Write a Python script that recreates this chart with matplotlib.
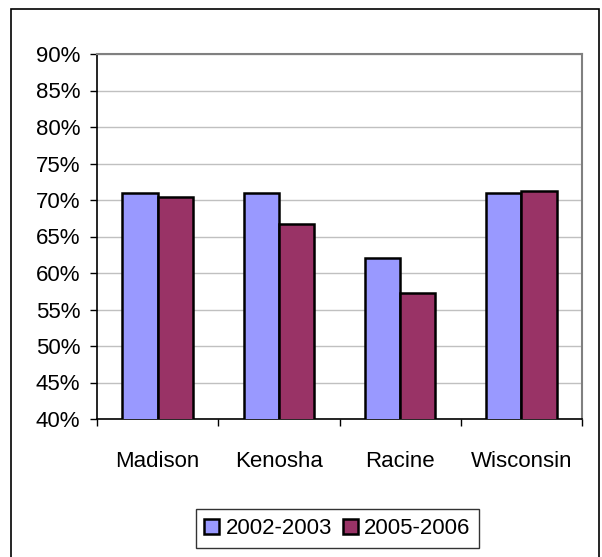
import numpy as np
import matplotlib.pyplot as plt
from matplotlib.patches import Rectangle
from matplotlib.ticker import FixedLocator

plt.rcParams['font.family'] = ['Liberation Sans', 'DejaVu Sans']

categories = ["Madison", "Kenosha", "Racine", "Wisconsin"]
series_names = ["2002-2003", "2005-2006"]
values_0203 = [71.0, 71.0, 62.0, 71.0]
values_0506 = [70.4, 66.7, 57.3, 71.3]
y_ticks = list(range(40, 95, 5))

fig = plt.figure(figsize=(6.02, 5.57), dpi=100)
ax = fig.add_axes([97 / 602, 1 - 419 / 557, (582 - 97) / 602, (419 - 54) / 557])

x = np.arange(len(categories))
w = 0.29
ax.bar(x - w / 2, values_0203, w, color="#9999FF", edgecolor="black",
       linewidth=1.8, label=series_names[0], zorder=3)
ax.bar(x + w / 2, values_0506, w, color="#993366", edgecolor="black",
       linewidth=1.8, label=series_names[1], zorder=3)

ax.set_xlim(-0.5, len(categories) - 0.5)
ax.set_ylim(40, 90)
ax.set_yticks(y_ticks)
ax.set_yticklabels([f"{t}%" for t in y_ticks])
ax.yaxis.grid(True, color="#c0c0c0", linewidth=1, zorder=0)

ax.set_xticks(x)
ax.set_xticklabels(categories)
ax.xaxis.set_minor_locator(FixedLocator(np.arange(len(categories) + 1) - 0.5))
ax.tick_params(axis="x", which="major", length=0, pad=23, labelsize=16)
ax.tick_params(axis="x", which="minor", length=5, width=1, direction="out")
ax.tick_params(axis="y", length=5, width=1, direction="out", pad=7, labelsize=16)

for side in ["left", "bottom"]:
    ax.spines[side].set_color("black")
    ax.spines[side].set_linewidth(1.2)
for side in ["top", "right"]:
    ax.spines[side].set_color("#808080")
    ax.spines[side].set_linewidth(1.5)

leg = fig.legend(loc="center", bbox_to_anchor=(337.5 / 602, 1 - 528.5 / 557),
                 ncol=2, fontsize=16, frameon=True, fancybox=False,
                 handlelength=0.65, handleheight=0.65, handletextpad=0.3,
                 columnspacing=0.5, borderpad=0.4, borderaxespad=0)
leg.get_frame().set_edgecolor("black")
leg.get_frame().set_linewidth(1)

# outer chart border (bottom edge cut off by the picture)
fig.patches.append(Rectangle((11 / 602, -0.05), (599 - 11) / 602, 1 - 9 / 557 + 0.05,
                             transform=fig.transFigure, fill=False,
                             edgecolor="black", linewidth=1.2))

fig.savefig("out.png", dpi=100)
